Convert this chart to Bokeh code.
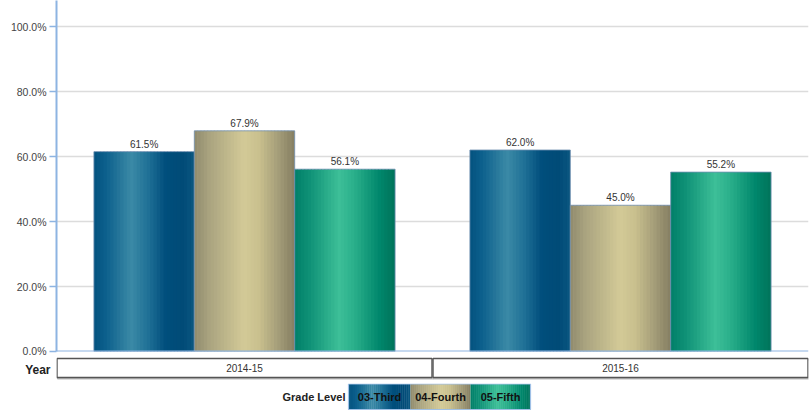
from bokeh.plotting import figure
from bokeh.models import (ColumnDataSource, FactorRange, Range1d, Span,
                          PrintfTickFormatter, FixedTicker)
from bokeh.transform import dodge
from bokeh.layouts import column
from bokeh.embed import file_html
from bokeh.resources import INLINE
from bokeh.core.properties import value

# ---------------- data ----------------
years = ["2014-15", "2015-16"]
grades = ["03-Third", "04-Fourth", "05-Fifth"]
third = [61.5, 62.0]
fourth = [67.9, 45.0]
fifth = [56.1, 55.2]
y_ticks = [0, 20, 40, 60, 80, 100]

# ---------------- style ----------------
RAMPS = [
    [(0.0, "#03527f"), (0.12, "#0c5f8c"), (0.38, "#3b8aa6"), (0.55, "#1f7096"),
     (0.72, "#004e7c"), (0.9, "#014b77"), (1.0, "#0b5781")],
    [(0.0, "#8f8a6d"), (0.15, "#a9a37f"), (0.5, "#d3ca97"), (0.65, "#c9c08e"),
     (0.85, "#a39c78"), (1.0, "#857e61")],
    [(0.0, "#007f68"), (0.15, "#0f9176"), (0.45, "#3dbf98"), (0.6, "#2aaf8a"),
     (0.85, "#00876c"), (1.0, "#00735a")],
]
OUTLINE = "#6f8fb0"
FONT = "Liberation Sans"


def hex2rgb(h):
    h = h.lstrip("#")
    return tuple(int(h[i:i + 2], 16) for i in (0, 2, 4))


def ramp_color(stops, t):
    for (t0, c0), (t1, c1) in zip(stops[:-1], stops[1:]):
        if t0 <= t <= t1:
            f = 0 if t1 == t0 else (t - t0) / (t1 - t0)
            a, b = hex2rgb(c0), hex2rgb(c1)
            return "#%02x%02x%02x" % tuple(int(round(a[k] + (b[k] - a[k]) * f)) for k in range(3))
    return stops[-1][1]


N = 30
BAR_W = 0.267
offsets = [-BAR_W, 0.0, BAR_W]

x_range = FactorRange(*years, range_padding=0)

p = figure(x_range=x_range, y_range=Range1d(0, 108), width=810, height=356,
           output_backend="svg", toolbar_location=None, x_axis_location=None,
           min_border_left=56, min_border_right=2, min_border_top=0, min_border_bottom=5)
p.outline_line_color = None
p.background_fill_color = "white"
p.xgrid.grid_line_color = None
p.ygrid.grid_line_color = "#dcdcdc"
p.ygrid.grid_line_width = 1.5
p.yaxis.ticker = FixedTicker(ticks=y_ticks)
p.yaxis.formatter = PrintfTickFormatter(format="%.1f%%")
p.yaxis.axis_line_color = "#8db4e2"
p.yaxis.axis_line_width = 2
p.yaxis.major_tick_line_color = "#8db4e2"
p.yaxis.major_tick_line_width = 1.5
p.yaxis.major_tick_out = 7
p.yaxis.major_tick_in = 0
p.yaxis.minor_tick_line_color = None
p.yaxis.major_label_text_font = FONT
p.yaxis.major_label_text_font_size = "10.5px"
p.yaxis.major_label_text_color = "#444444"
p.yaxis.major_label_standoff = 3

src = ColumnDataSource(dict(year=years, third=third, fourth=fourth, fifth=fifth,
                            lt=["%.1f%%" % v for v in third],
                            lf=["%.1f%%" % v for v in fourth],
                            l5=["%.1f%%" % v for v in fifth]))
cols = ["third", "fourth", "fifth"]
lcols = ["lt", "lf", "l5"]

sw = BAR_W / N
for g in range(3):
    for i in range(N):
        t = (i + 0.5) / N
        off = offsets[g] - BAR_W / 2 + (i + 0.5) * sw
        wid = sw * (1.35 if 0 < i < N - 1 else 1.0)
        p.vbar(x=dodge("year", off, range=x_range), top=cols[g], width=wid, bottom=0,
               source=src, fill_color=ramp_color(RAMPS[g], t), line_color=None)
    p.vbar(x=dodge("year", offsets[g], range=x_range), top=cols[g], width=BAR_W, bottom=0,
           source=src, fill_color=None, line_color=OUTLINE, line_width=1, line_alpha=0.8)
    p.text(x=dodge("year", offsets[g], range=x_range), y=cols[g], text=lcols[g], source=src,
           text_align="center", text_baseline="bottom", y_offset=-2,
           text_font=value(FONT), text_font_size="10px", text_color="#333333")

p.add_layout(Span(location=0, dimension="width", line_color="#8db4e2", line_width=2))

# ---------------- Year boxes ----------------
p2 = figure(x_range=x_range, y_range=Range1d(383, 356), width=810, height=27,
            output_backend="svg", toolbar_location=None, x_axis_location=None,
            min_border_left=56, min_border_right=2, min_border_top=0, min_border_bottom=0)
p2.outline_line_color = None
p2.xgrid.grid_line_color = None
p2.ygrid.grid_line_color = None
p2.yaxis.axis_label = "Year"
p2.yaxis.axis_label_orientation = "horizontal"
p2.yaxis.axis_label_text_font = FONT
p2.yaxis.axis_label_text_font_style = "bold"
p2.yaxis.axis_label_text_font_size = "12px"
p2.yaxis.axis_label_text_color = "#222222"
p2.yaxis.axis_label_standoff = 6
p2.yaxis.axis_line_color = None
p2.yaxis.major_tick_line_color = None
p2.yaxis.minor_tick_line_color = None
p2.yaxis.major_label_text_font_size = "0px"
p2.yaxis.ticker = FixedTicker(ticks=[])

ysrc = ColumnDataSource(dict(year=years))
p2.rect(x=dodge("year", 0.003, range=x_range), y=368.5, width=1, height=19, source=ysrc,
        fill_color=None, line_color="#bbbbbb", line_width=2)
p2.rect(x="year", y=367.5, width=0.997, height=19, source=ysrc,
        fill_color="white", line_color="#555555", line_width=1.3)
p2.text(x="year", y=367.5, text="year", source=ysrc, text_align="center",
        text_baseline="middle", text_font=value(FONT), text_font_size="10px",
        text_color="#333333")

# ---------------- legend ----------------
p3 = figure(x_range=Range1d(56, 808), y_range=Range1d(411, 383), width=810, height=28,
            output_backend="svg", toolbar_location=None,
            x_axis_location=None, y_axis_location=None,
            min_border_left=56, min_border_right=2, min_border_top=0, min_border_bottom=0)
p3.outline_line_color = None
p3.xgrid.grid_line_color = None
p3.ygrid.grid_line_color = None

lx = [348, 410, 470, 530]
ly0, ly1 = 383.5, 409
for g in range(3):
    a, b = lx[g], lx[g + 1]
    w = (b - a) / N
    lefts = [a + i * w for i in range(N)]
    rights = [a + (i + 1) * w + (0.4 if i < N - 1 else 0) for i in range(N)]
    colors = [ramp_color(RAMPS[g], (i + 0.5) / N) for i in range(N)]
    p3.quad(left=lefts, right=rights, top=[ly0] * N, bottom=[ly1] * N, fill_color=colors,
            line_color=None)
    p3.text(x=[(a + b) / 2], y=[(ly0 + ly1) / 2], text=[grades[g]],
            text_align="center", text_baseline="middle", text_font=value(FONT),
            text_font_style="bold", text_font_size="11px", text_color="#111111")
p3.quad(left=[lx[0]], right=[lx[-1]], top=[ly0], bottom=[ly1], fill_color=None,
        line_color="#9fc0e6", line_width=1.2)
p3.text(x=[345], y=[(ly0 + ly1) / 2], text=["Grade Level"],
        text_align="right", text_baseline="middle", text_font=value(FONT),
        text_font_style="bold", text_font_size="11px", text_color="#222222")

layout = column(p, p2, p3, spacing=0)
open("out.html", "w").write(file_html(layout, INLINE))
